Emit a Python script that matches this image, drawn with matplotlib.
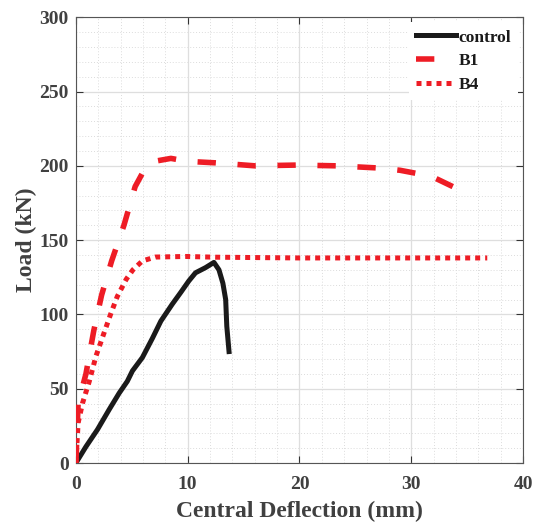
import matplotlib
matplotlib.use("Agg")
import matplotlib.pyplot as plt
from matplotlib.ticker import MultipleLocator

plt.rcParams['font.family'] = ['Liberation Serif', 'DejaVu Serif']
plt.rcParams['font.weight'] = 'bold'

# control beam
ctrl_x = [0, 0.9, 1.93, 2.98, 3.87, 4.6, 5.06, 5.95, 6.85, 7.6, 8.63, 9.4, 10.1,
          10.7, 11.6, 12.35, 12.8, 13.15, 13.4, 13.5, 13.7]
ctrl_y = [0, 11, 22.5, 36, 47, 55, 62, 71, 84, 95.5, 107, 115, 122.5,
          128, 131.5, 135, 130, 121, 110, 92, 75]

# B1
b1_x = [0, 0.2, 0.9, 1.6, 2.3, 3.2, 4.3, 5.3, 5.95, 7.0, 8.5, 10.0, 12.5, 16.0,
        19.7, 23.3, 26.9, 29.0, 30.4, 32.2, 34.0]
b1_y = [0, 40, 60, 89, 113, 136, 160, 186, 195, 203, 205, 203, 202, 200,
        200.5, 200, 198.6, 197, 195, 191.5, 185]

# B4
b4_x = [0, 0.2, 0.6, 1.2, 1.8, 2.4, 3.1, 3.7, 4.5, 5.1, 5.95, 7.1, 9.8, 12.5,
        20.0, 30.0, 36.8]
b4_y = [0, 27, 40.4, 55, 72, 85, 100, 112, 123.6, 130, 136, 138.6, 139, 138.5,
        138, 138, 138]

fig = plt.figure(figsize=(5.42, 5.22), dpi=100)
ax = fig.add_axes([0.140, 0.113, 0.825, 0.854])

red = '#ee1c25'
ax.plot(ctrl_x, ctrl_y, color='#1a1a1a', lw=3.6, label='control', zorder=3)
ax.plot(b1_x, b1_y, color=red, lw=4, ls=(0, (3.3, 3.9)), dash_capstyle='butt',
        label='B1', zorder=3)
ax.plot(b4_x, b4_y, color=red, lw=3.6, ls=(0, (1, 1)), dash_capstyle='butt',
        label='B4', zorder=3)

ax.set_xlim(0, 40)
ax.set_ylim(0, 300)
ax.xaxis.set_major_locator(MultipleLocator(10))
ax.yaxis.set_major_locator(MultipleLocator(50))
ax.xaxis.set_minor_locator(MultipleLocator(2))
ax.yaxis.set_minor_locator(MultipleLocator(10))
ax.grid(True, which='major', color='#dedede', lw=0.9)
ax.grid(True, which='minor', color='#dcdcdc', lw=0.7, ls=(0, (1, 2)))
ax.set_axisbelow(True)

ax.tick_params(which='major', direction='in', top=True, right=True, length=5,
               width=0.8, color='#333333', labelcolor='#404040', labelsize=14)
ax.tick_params(axis='x', pad=9)
ax.tick_params(axis='y', pad=5)
ax.tick_params(which='minor', length=0)
for s in ax.spines.values():
    s.set_color('#555555')
    s.set_linewidth(0.8)

ax.set_xlabel('Central Deflection (mm)', fontsize=17, fontweight='bold',
              color='#404040', labelpad=6)
ax.set_ylabel('Load (kN)', fontsize=17, fontweight='bold', color='#404040',
              labelpad=2)

leg = ax.legend(loc='upper right', fontsize=12.5, handlelength=2.3,
                handletextpad=0.15, labelspacing=0.45, borderaxespad=0.3,
                borderpad=0.4, frameon=True, fancybox=False, framealpha=1,
                facecolor='white', edgecolor='none')
leg.set_zorder(2)
for t in leg.get_texts():
    t.set_color('#1a1a1a')

fig.savefig('out.png', dpi=100)
